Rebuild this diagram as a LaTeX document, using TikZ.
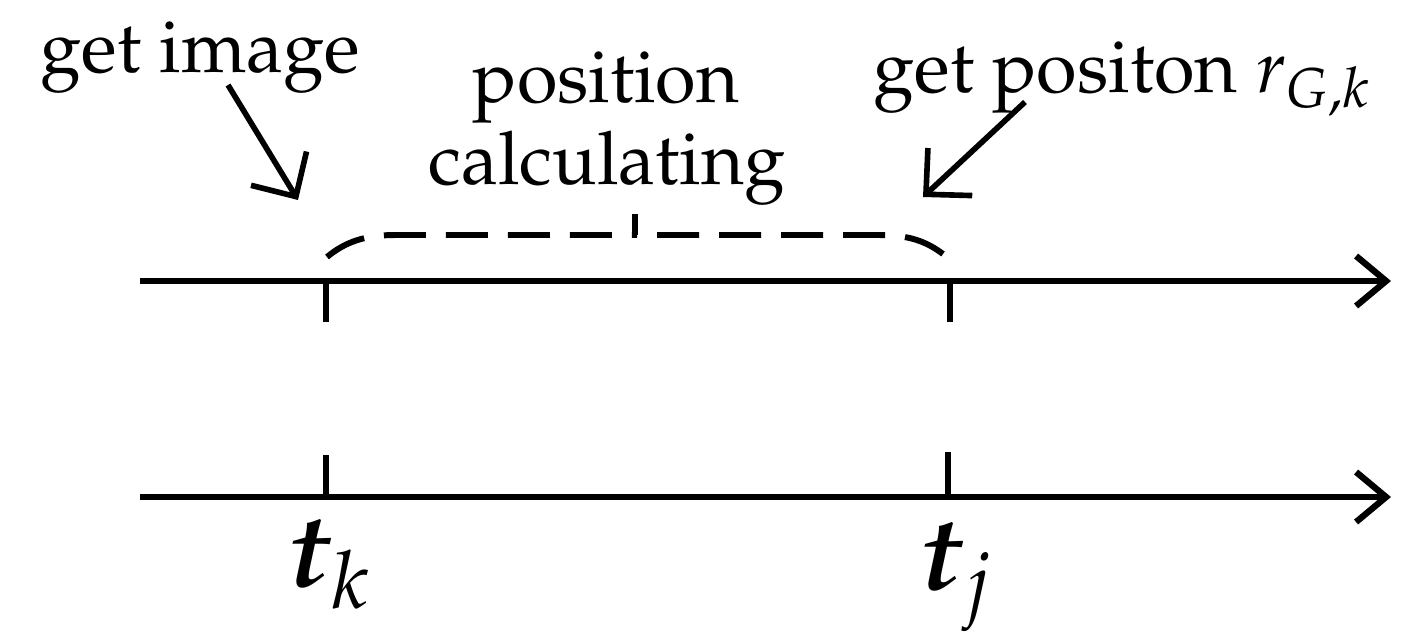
\documentclass[tikz,border=0pt]{standalone}
\usepackage[T1]{fontenc}
\usepackage{mathpazo}
\usepackage{tikz}
\usetikzlibrary{arrows.meta}

\begin{document}
\begin{tikzpicture}[
        axis/.style={line width=1.8pt, -{Straight Barb[length=3mm, width=5mm, line width=1.8pt]}},
        pointer/.style={line width=1.6pt, -{Straight Barb[length=3.3mm, width=6.5mm, line width=1.6pt]}},
        tickmark/.style={line width=1.6pt},
        brace/.style={line width=1.7pt, dash pattern=on 0.42cm off 0.20cm},
        lbl/.style={inner sep=0pt, font=\fontfamily{ppl}\fontsize{21}{23}\selectfont},
        tlbl/.style={inner sep=0pt, font=\fontfamily{ppl}\fontsize{30}{32}\selectfont}
    ]
        \useasboundingbox (0, 0) rectangle (14.24, 6.37);

        %time axes
        \coordinate (s1) at (1.40, 3.56);
        \coordinate (e1) at (13.91, 3.56);
        \coordinate (s2) at (1.40, 1.40);
        \coordinate (e2) at (13.91, 1.40);
        \draw[axis] (s1) -- (e1);
        \draw[axis] (s2) -- (e2);

        %ticks
        \coordinate (k1) at (3.26, 3.56);
        \coordinate (j1) at (9.50, 3.56);
        \coordinate (k2) at (3.26, 1.40);
        \coordinate (j2) at (9.48, 1.40);
        \draw[tickmark] (k1) -- ++(0, -0.41);
        \draw[tickmark] (j1) -- ++(0, -0.41);
        \draw[tickmark] (k2) -- ++(0, 0.42);
        \draw[tickmark] (j2) -- ++(0, 0.45);

        %calculating interval, both halves dashed from the outer ends
        \coordinate (bl) at (3.27, 3.80);
        \coordinate (bm) at (6.35, 4.02);
        \coordinate (br) at (9.43, 3.83);
        \draw[brace] (bl) .. controls (3.45, 3.95) and (3.65, 4.02) .. (3.95, 4.02) -- (bm);
        \draw[brace] (br) .. controls (9.27, 3.95) and (9.10, 4.02) .. (8.80, 4.02) -- (bm);
        \draw[tickmark] (bm) -- ++(0, 0.21);

        %labels
        \node[lbl, anchor=base west] (img) at (0.40, 5.65) {get image};
        \node[lbl, anchor=base] (pos) at (6.06, 5.35) {position};
        \node[lbl, anchor=base] (calc) at (6.07, 4.53) {calculating};
        \node[lbl, anchor=base west] (getpos) at (8.73, 5.45) {get positon $r_{G,k}$};
        \node[tlbl, anchor=base west] (tk) at (2.88, 0.51) {\textbf{\textit{t}}$_k$};
        \node[tlbl, anchor=base west] (tj) at (9.20, 0.48) {\textbf{\textit{t}}$_j$};

        %pointers
        \coordinate (img0) at (2.28, 5.52);
        \coordinate (img1) at (2.98, 4.37);
        \coordinate (pos0) at (10.25, 5.35);
        \coordinate (pos1) at (9.23, 4.40);
        \draw[pointer] (img0) -- (img1);
        \draw[pointer] (pos0) -- (pos1);
    \end{tikzpicture}
\end{document}
